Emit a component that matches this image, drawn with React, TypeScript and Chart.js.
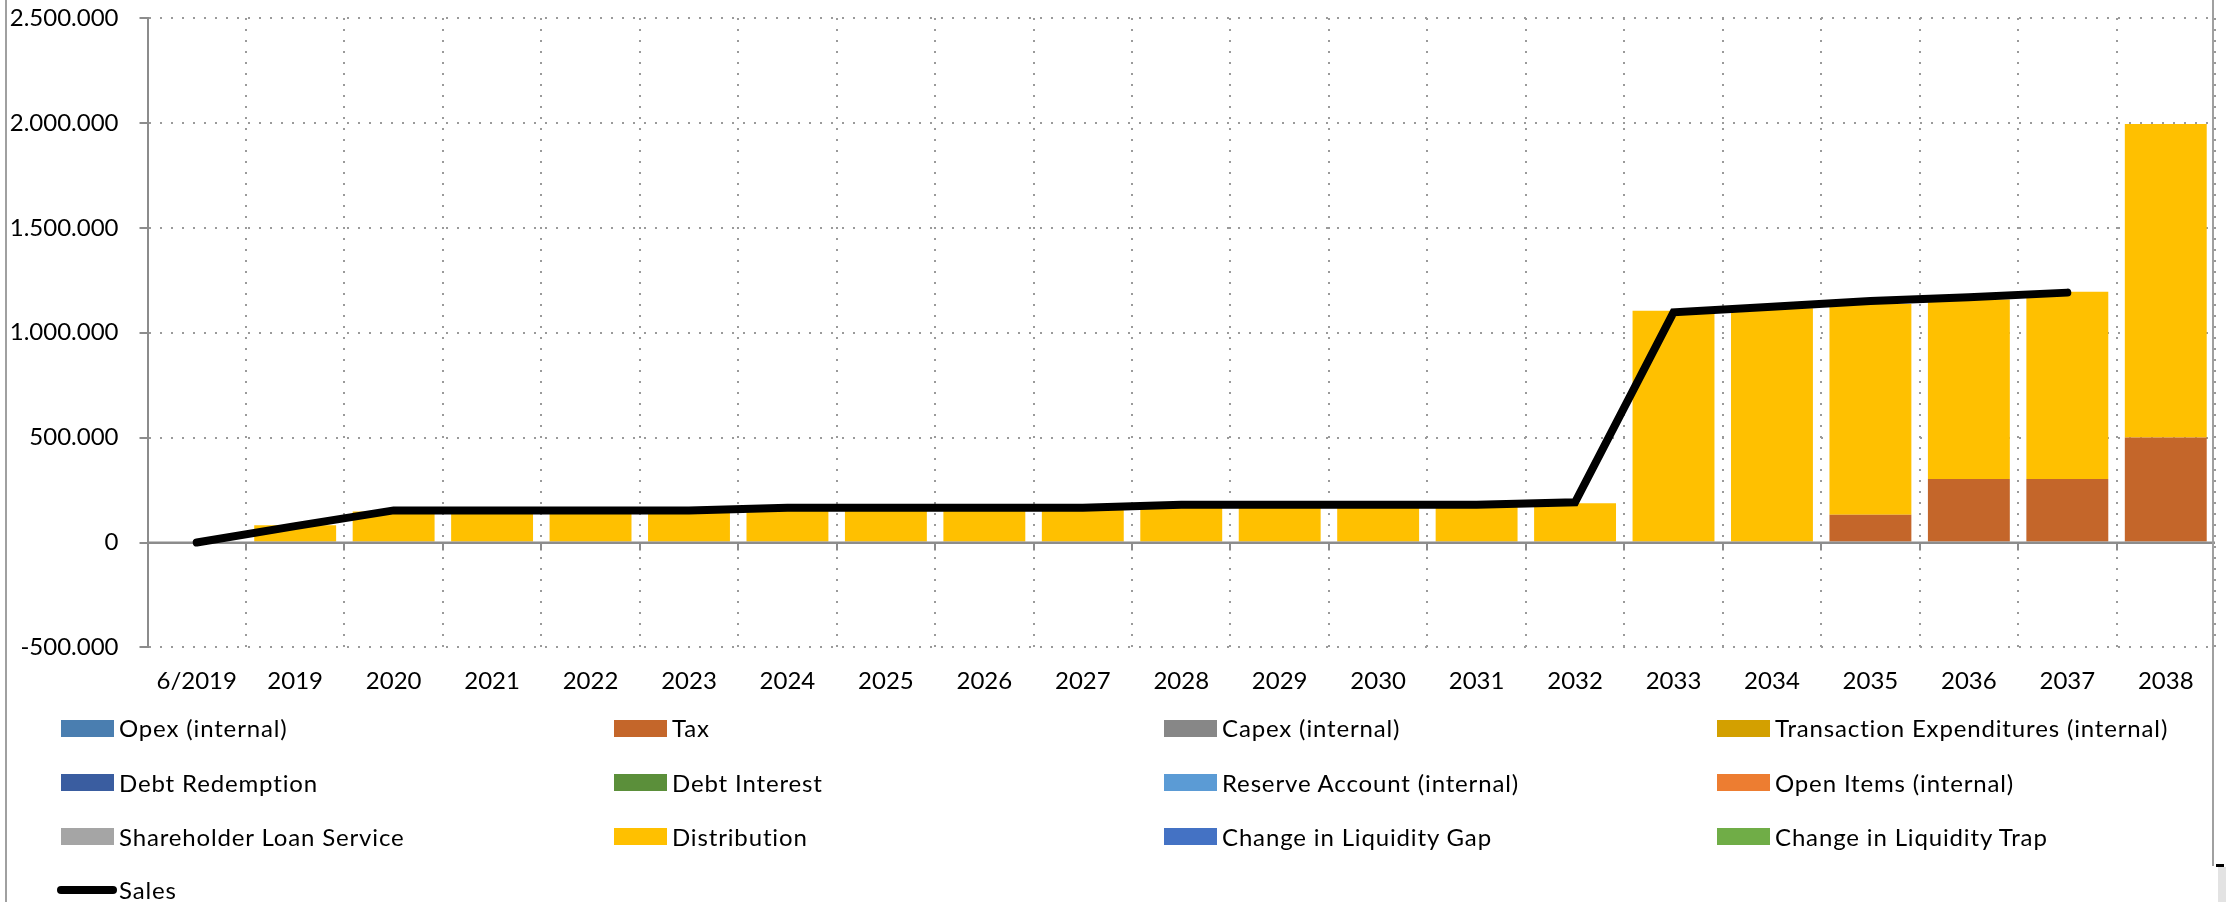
import React, { useEffect, useRef } from 'react';
import { Chart, registerables } from 'chart.js';

Chart.register(...registerables);

const categories = ['6/2019', '2019', '2020', '2021', '2022', '2023', '2024', '2025', '2026', '2027', '2028', '2029', '2030', '2031', '2032', '2033', '2034', '2035', '2036', '2037', '2038'];

const salesValues = [0, 78000, 153000, 153000, 153000, 153000, 166000, 166000, 166000, 166000, 180000, 180000, 180000, 180000, 192000, 1097000, 1124000, 1151000, 1169000, 1191000, null];

const distributionValues = [null, 82000, 148000, 148000, 148000, 148000, 160000, 160000, 160000, 160000, 172000, 172000, 172000, 172000, 187000, 1105000, 1116000, 1005000, 855000, 892000, 1495000];

const taxValues = [null, null, null, null, null, null, null, null, null, null, null, null, null, null, null, null, null, 132000, 303000, 303000, 500000];

const noValues = [null, null, null, null, null, null, null, null, null, null, null, null, null, null, null, null, null, null, null, null, null];

const seriesLabels = ['Opex (internal)', 'Tax', 'Capex (internal)', 'Transaction Expenditures (internal)', 'Debt Redemption', 'Debt Interest', 'Reserve Account (internal)', 'Open Items (internal)', 'Shareholder Loan Service', 'Distribution', 'Change in Liquidity Gap', 'Change in Liquidity Trap'];
const seriesColors = ['#4A7EB0', '#C4662A', '#878787', '#D3A000', '#3A5DA0', '#5B8F3A', '#5B9BD5', '#ED7D31', '#A5A5A5', '#FFC000', '#4472C4', '#70AD47'];
const seriesValues = [noValues, taxValues, noValues, noValues, noValues, noValues, noValues, noValues, noValues, distributionValues, noValues, noValues];

const lineLabel = 'Sales';
const yMin = -500000;
const yMax = 2500000;
const yStep = 500000;

const FONT = 'Lato';
const FONT_SIZE = 24;
const AXIS_GRAY = '#8C8C8C';
const GRID_GRAY = '#9A9A9A';

function formatNumber(v: number): string {
  const s = Math.abs(Math.round(v)).toString().replace(/\B(?=(\d{3})+(?!\d))/g, '.');
  return (v < 0 ? '-' : '') + s;
}

const zeroAxisPlugin = {
  id: 'zeroAxis',
  beforeDatasetDraw(chart: any, args: any) {
    if (!args.meta || args.meta.type !== 'line') return;
    const { ctx, chartArea, scales } = chart;
    const y0 = scales.y.getPixelForValue(0);
    const xs = scales.x;
    ctx.save();
    ctx.strokeStyle = AXIS_GRAY;
    ctx.lineWidth = 2;
    ctx.beginPath();
    ctx.moveTo(chartArea.left, y0);
    ctx.lineTo(chartArea.right, y0);
    for (let i = 1; i < categories.length; i++) {
      const x = Math.round((xs.getPixelForTick(i - 1) + xs.getPixelForTick(i)) / 2);
      ctx.moveTo(x, y0);
      ctx.lineTo(x, y0 + 8);
    }
    ctx.stroke();
    ctx.restore();
  },
};

const colX = [61, 614, 1164, 1717];
const rowY = [728, 782.5, 836.5, 890];

export default function App() {
  const canvasRef = useRef<HTMLCanvasElement | null>(null);

  useEffect(() => {
    const canvas = canvasRef.current;
    if (!canvas) return;
    const barDatasets = seriesLabels.map((label, i) => ({
      type: 'bar' as const,
      label,
      data: seriesValues[i],
      backgroundColor: seriesColors[i],
      borderWidth: 0,
      barPercentage: 0.832,
      categoryPercentage: 1,
      order: 1,
    }));
    const chart = new Chart(canvas, {
      type: 'bar',
      data: {
        labels: categories,
        datasets: [
          ...barDatasets,
          {
            type: 'line' as const,
            label: lineLabel,
            data: salesValues,
            borderColor: '#000000',
            backgroundColor: '#000000',
            borderWidth: 8,
            pointRadius: 0,
            pointHoverRadius: 0,
            tension: 0,
            borderCapStyle: 'round',
            borderJoinStyle: 'miter',
            fill: false,
            stack: 'sales',
            order: 0,
          } as any,
        ],
      },
      options: {
        responsive: false,
        maintainAspectRatio: false,
        animation: false,
        layout: { padding: { left: 0, right: 11, top: 18, bottom: 0 } },
        plugins: {
          legend: { display: false },
          tooltip: { enabled: false },
        },
        scales: {
          x: {
            stacked: true,
            offset: true,
            grid: { offset: true, color: GRID_GRAY, lineWidth: 2, drawTicks: false },
            border: { display: false, dash: [2, 9] },
            ticks: {
              color: '#000',
              font: { family: FONT, size: FONT_SIZE },
              padding: 19,
              maxRotation: 0,
              minRotation: 0,
              autoSkip: false,
            },
            afterFit: (s: any) => {
              s.height = 254.6;
              s.paddingLeft = 0;
              s.paddingRight = 0;
            },
          },
          y: {
            stacked: true,
            min: yMin,
            max: yMax,
            ticks: {
              stepSize: yStep,
              callback: (v: any) => formatNumber(Number(v)),
              color: '#000',
              font: { family: FONT, size: FONT_SIZE },
              padding: 21,
            },
            grid: {
              color: (ctx: any) => (ctx.tick && ctx.tick.value === 0 ? AXIS_GRAY : GRID_GRAY),
              lineWidth: 2,
              drawTicks: true,
              tickLength: 8,
              tickColor: AXIS_GRAY,
              tickWidth: 2,
            },
            border: {
              display: true,
              color: AXIS_GRAY,
              width: 2,
              dash: (ctx: any) => (ctx.tick && ctx.tick.value === 0 ? [] : [2, 9]),
            } as any,
            afterFit: (s: any) => {
              s.width = 147.5;
              s.paddingTop = 0;
              s.paddingBottom = 0;
            },
          },
        },
      },
      plugins: [zeroAxisPlugin],
    });
    return () => chart.destroy();
  }, []);

  const textStyle: React.CSSProperties = {
    fontFamily: FONT,
    fontSize: FONT_SIZE,
    lineHeight: '24px',
    letterSpacing: '0.85px',
    color: '#000',
    whiteSpace: 'nowrap',
  };

  return (
    <div style={{ position: 'absolute', left: 0, top: 0, width: 2226, height: 902, background: '#fff', overflow: 'hidden' }}>
      <canvas ref={canvasRef} width={2226} height={902} style={{ position: 'absolute', left: 0, top: 0, width: 2226, height: 902 }} />
      {seriesLabels.map((label, i) => {
        const col = i % 4;
        const row = Math.floor(i / 4);
        return (
          <div key={label} style={{ position: 'absolute', left: colX[col], top: rowY[row] - 12, height: 24, display: 'flex', alignItems: 'center' }}>
            <div style={{ width: 53, height: 17, background: seriesColors[i], marginRight: 5 }} />
            <span style={textStyle}>{label}</span>
          </div>
        );
      })}
      <div style={{ position: 'absolute', left: 57, top: rowY[3] - 12, height: 24, display: 'flex', alignItems: 'center' }}>
        <div style={{ width: 60, height: 8, background: '#000', borderRadius: 4, marginRight: 2 }} />
        <span style={textStyle}>{lineLabel}</span>
      </div>
      <div style={{ position: 'absolute', left: 5, top: 0, width: 2, height: 902, background: '#A0A0A0' }} />
      <div style={{ position: 'absolute', left: 2212, top: 0, width: 2, height: 866, background: '#A0A0A0' }} />
      <div style={{ position: 'absolute', left: 2216, top: 864, width: 8, height: 3, background: '#000' }} />
      <div style={{ position: 'absolute', left: 2218, top: 867, width: 8, height: 35, background: '#E3E3E3' }} />
    </div>
  );
}
